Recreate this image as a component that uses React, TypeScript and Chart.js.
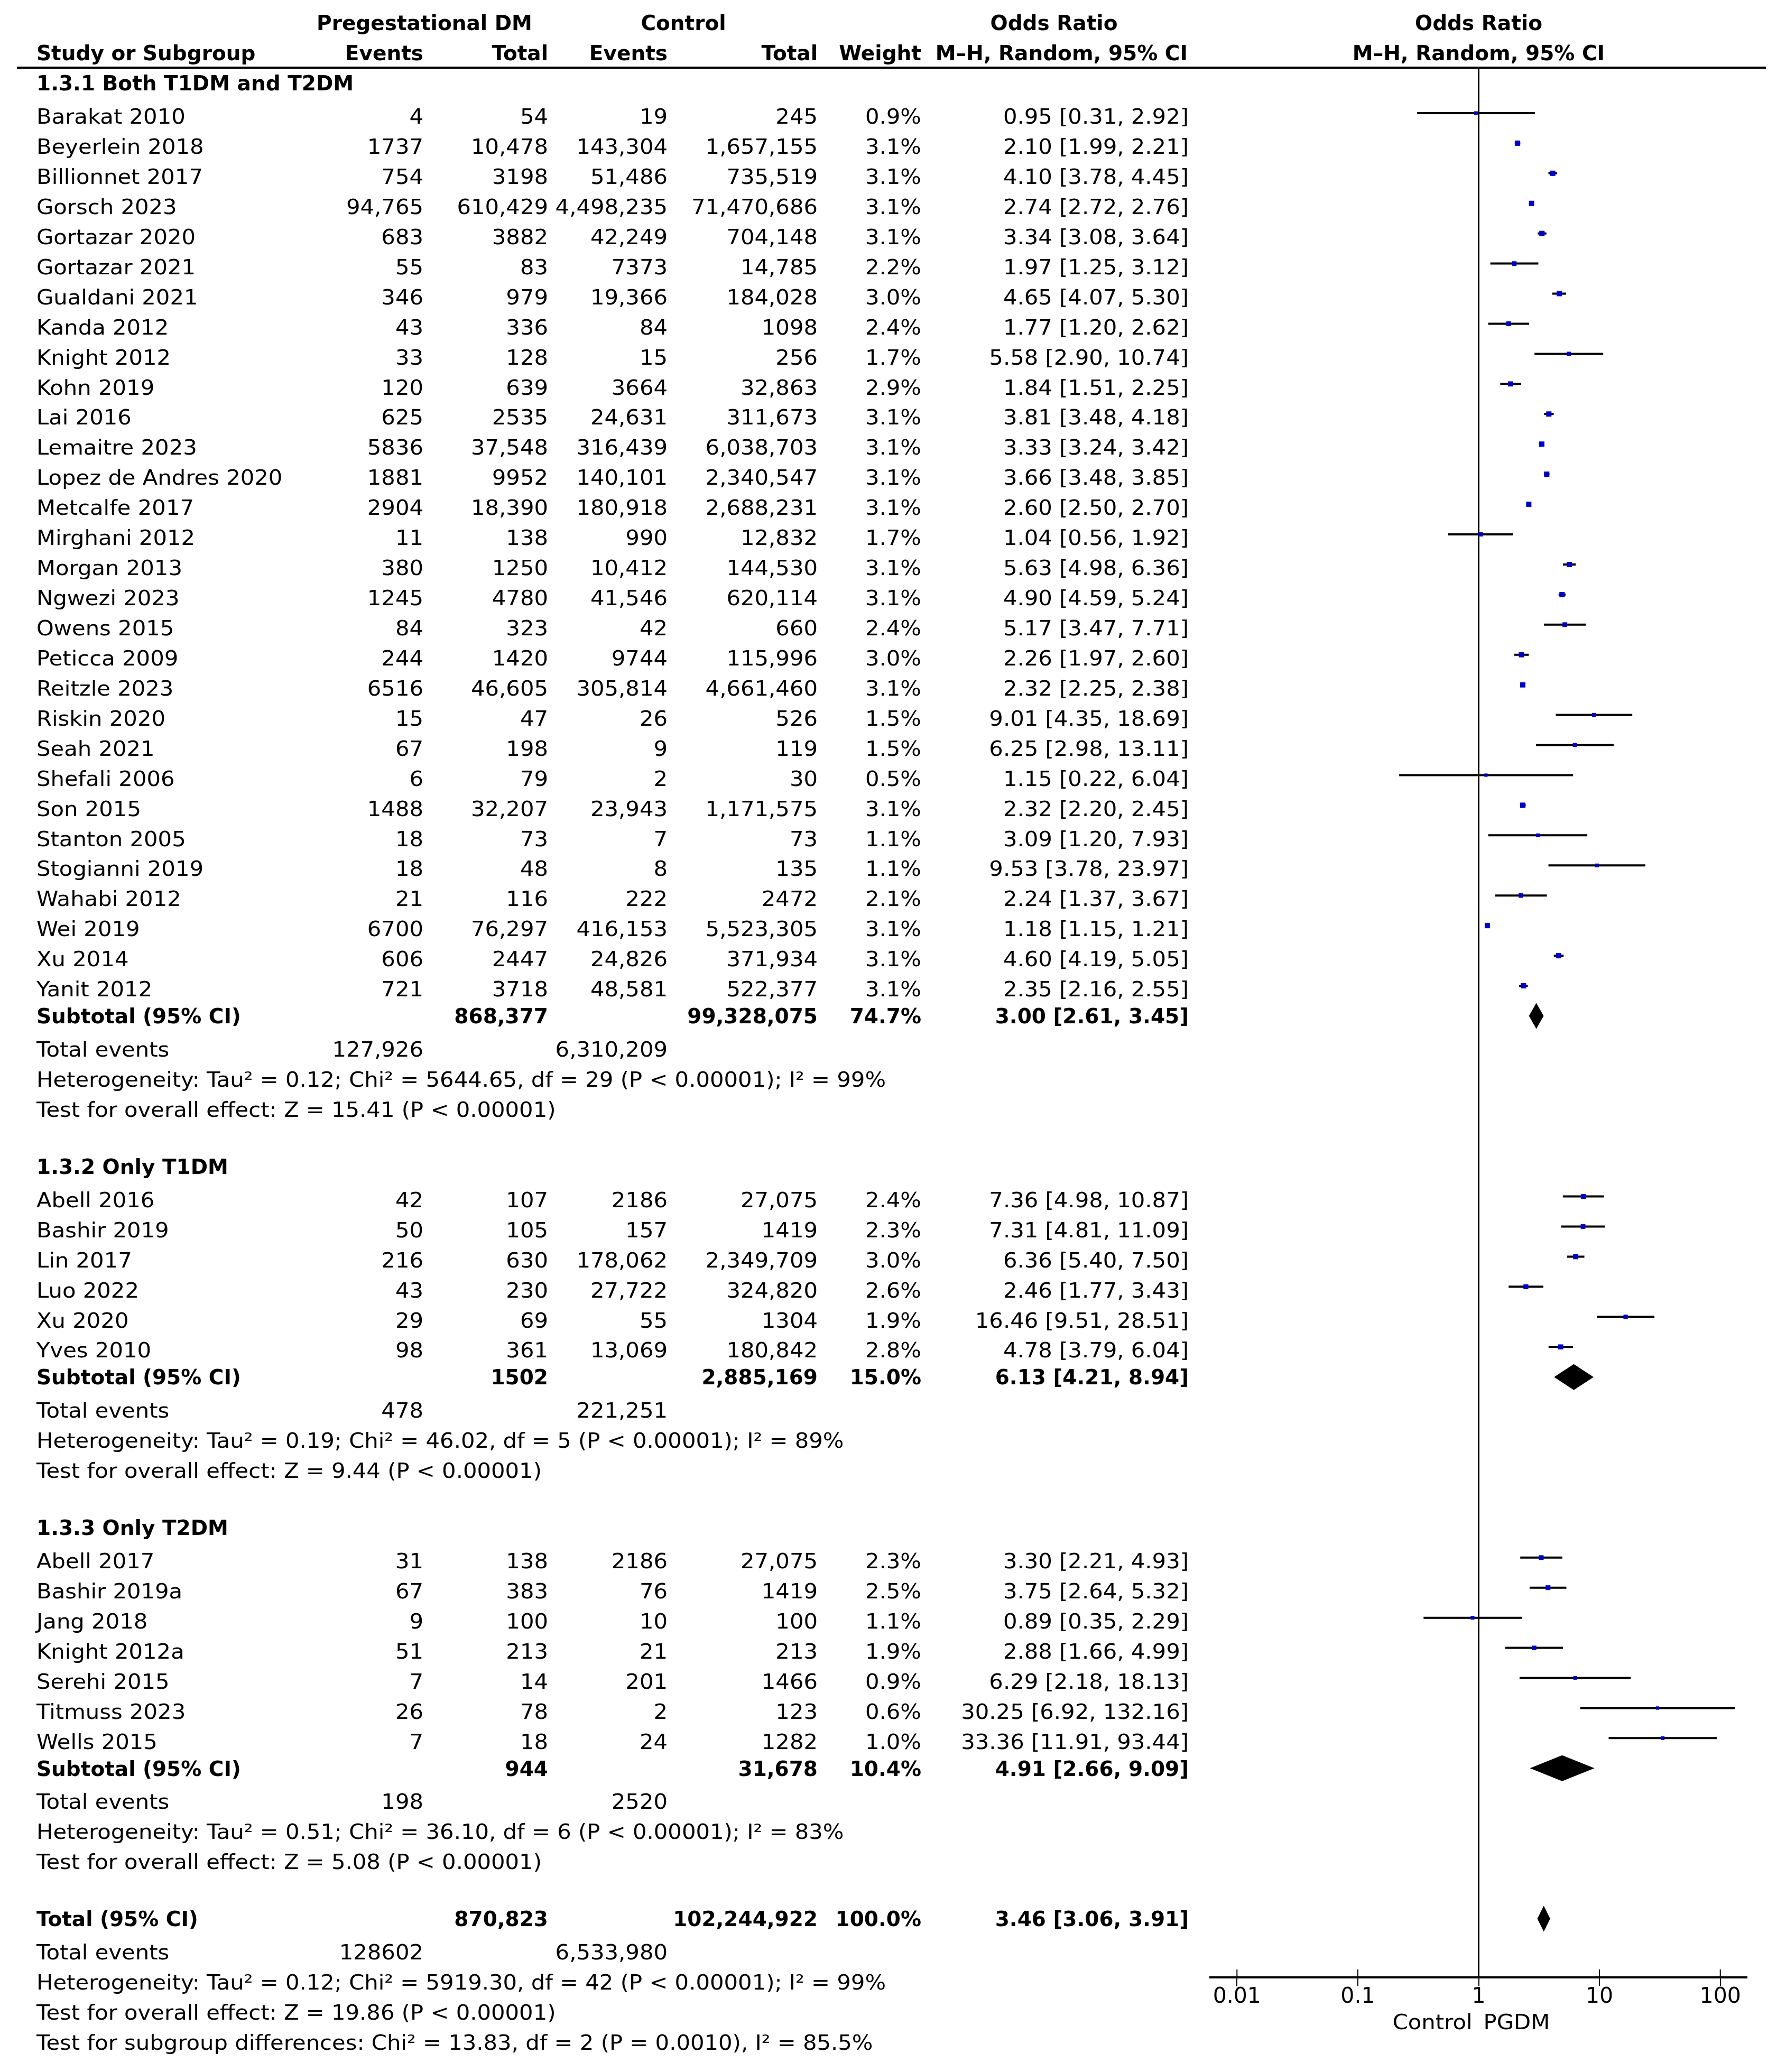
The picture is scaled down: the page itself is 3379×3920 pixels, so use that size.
import React, { useEffect, useRef } from "react";
import { Chart, registerables } from "chart.js";

Chart.register(...registerables);

// ---------------- DATA ----------------
const groupTitles = ["1.3.1 Both T1DM and T2DM", "1.3.2 Only T1DM", "1.3.3 Only T2DM"];
const groupSizes = [30, 6, 7];

const studyNames = [
  "Barakat 2010", "Beyerlein 2018", "Billionnet 2017", "Gorsch 2023", "Gortazar 2020", "Gortazar 2021",
  "Gualdani 2021", "Kanda 2012", "Knight 2012", "Kohn 2019", "Lai 2016", "Lemaitre 2023",
  "Lopez de Andres 2020", "Metcalfe 2017", "Mirghani 2012", "Morgan 2013", "Ngwezi 2023", "Owens 2015",
  "Peticca 2009", "Reitzle 2023", "Riskin 2020", "Seah 2021", "Shefali 2006", "Son 2015",
  "Stanton 2005", "Stogianni 2019", "Wahabi 2012", "Wei 2019", "Xu 2014", "Yanit 2012",
  "Abell 2016", "Bashir 2019", "Lin 2017", "Luo 2022", "Xu 2020", "Yves 2010",
  "Abell 2017", "Bashir 2019a", "Jang 2018", "Knight 2012a", "Serehi 2015", "Titmuss 2023", "Wells 2015",
];
const pgEvents = [
  "4", "1737", "754", "94,765", "683", "55", "346", "43", "33", "120", "625", "5836",
  "1881", "2904", "11", "380", "1245", "84", "244", "6516", "15", "67", "6", "1488",
  "18", "18", "21", "6700", "606", "721",
  "42", "50", "216", "43", "29", "98",
  "31", "67", "9", "51", "7", "26", "7",
];
const pgTotal = [
  "54", "10,478", "3198", "610,429", "3882", "83", "979", "336", "128", "639", "2535", "37,548",
  "9952", "18,390", "138", "1250", "4780", "323", "1420", "46,605", "47", "198", "79", "32,207",
  "73", "48", "116", "76,297", "2447", "3718",
  "107", "105", "630", "230", "69", "361",
  "138", "383", "100", "213", "14", "78", "18",
];
const ctlEvents = [
  "19", "143,304", "51,486", "4,498,235", "42,249", "7373", "19,366", "84", "15", "3664", "24,631", "316,439",
  "140,101", "180,918", "990", "10,412", "41,546", "42", "9744", "305,814", "26", "9", "2", "23,943",
  "7", "8", "222", "416,153", "24,826", "48,581",
  "2186", "157", "178,062", "27,722", "55", "13,069",
  "2186", "76", "10", "21", "201", "2", "24",
];
const ctlTotal = [
  "245", "1,657,155", "735,519", "71,470,686", "704,148", "14,785", "184,028", "1098", "256", "32,863", "311,673", "6,038,703",
  "2,340,547", "2,688,231", "12,832", "144,530", "620,114", "660", "115,996", "4,661,460", "526", "119", "30", "1,171,575",
  "73", "135", "2472", "5,523,305", "371,934", "522,377",
  "27,075", "1419", "2,349,709", "324,820", "1304", "180,842",
  "27,075", "1419", "100", "213", "1466", "123", "1282",
];
const weights = [
  0.9, 3.1, 3.1, 3.1, 3.1, 2.2, 3.0, 2.4, 1.7, 2.9, 3.1, 3.1,
  3.1, 3.1, 1.7, 3.1, 3.1, 2.4, 3.0, 3.1, 1.5, 1.5, 0.5, 3.1,
  1.1, 1.1, 2.1, 3.1, 3.1, 3.1,
  2.4, 2.3, 3.0, 2.6, 1.9, 2.8,
  2.3, 2.5, 1.1, 1.9, 0.9, 0.6, 1.0,
];
const oddsRatio = [
  0.95, 2.10, 4.10, 2.74, 3.34, 1.97, 4.65, 1.77, 5.58, 1.84, 3.81, 3.33,
  3.66, 2.60, 1.04, 5.63, 4.90, 5.17, 2.26, 2.32, 9.01, 6.25, 1.15, 2.32,
  3.09, 9.53, 2.24, 1.18, 4.60, 2.35,
  7.36, 7.31, 6.36, 2.46, 16.46, 4.78,
  3.30, 3.75, 0.89, 2.88, 6.29, 30.25, 33.36,
];
const ciLow = [
  0.31, 1.99, 3.78, 2.72, 3.08, 1.25, 4.07, 1.20, 2.90, 1.51, 3.48, 3.24,
  3.48, 2.50, 0.56, 4.98, 4.59, 3.47, 1.97, 2.25, 4.35, 2.98, 0.22, 2.20,
  1.20, 3.78, 1.37, 1.15, 4.19, 2.16,
  4.98, 4.81, 5.40, 1.77, 9.51, 3.79,
  2.21, 2.64, 0.35, 1.66, 2.18, 6.92, 11.91,
];
const ciHigh = [
  2.92, 2.21, 4.45, 2.76, 3.64, 3.12, 5.30, 2.62, 10.74, 2.25, 4.18, 3.42,
  3.85, 2.70, 1.92, 6.36, 5.24, 7.71, 2.60, 2.38, 18.69, 13.11, 6.04, 2.45,
  7.93, 23.97, 3.67, 1.21, 5.05, 2.55,
  10.87, 11.09, 7.50, 3.43, 28.51, 6.04,
  4.93, 5.32, 2.29, 4.99, 18.13, 132.16, 93.44,
];

// subgroup summaries
const subPgTotal = ["868,377", "1502", "944"];
const subCtlTotal = ["99,328,075", "2,885,169", "31,678"];
const subWeight = [74.7, 15.0, 10.4];
const subOR = [3.00, 6.13, 4.91];
const subLow = [2.61, 4.21, 2.66];
const subHigh = [3.45, 8.94, 9.09];
const subEventsPg = ["127,926", "478", "198"];
const subEventsCtl = ["6,310,209", "221,251", "2520"];
const subHeterogeneity = [
  "Heterogeneity: Tau² = 0.12; Chi² = 5644.65, df = 29 (P < 0.00001); I² = 99%",
  "Heterogeneity: Tau² = 0.19; Chi² = 46.02, df = 5 (P < 0.00001); I² = 89%",
  "Heterogeneity: Tau² = 0.51; Chi² = 36.10, df = 6 (P < 0.00001); I² = 83%",
];
const subOverall = [
  "Test for overall effect: Z = 15.41 (P < 0.00001)",
  "Test for overall effect: Z = 9.44 (P < 0.00001)",
  "Test for overall effect: Z = 5.08 (P < 0.00001)",
];

// overall
const totalPg = "870,823";
const totalCtl = "102,244,922";
const totalWeight = 100.0;
const totalOR = 3.46;
const totalLow = 3.06;
const totalHigh = 3.91;
const totalEventsPg = "128602";
const totalEventsCtl = "6,533,980";
const totalHeterogeneity = "Heterogeneity: Tau² = 0.12; Chi² = 5919.30, df = 42 (P < 0.00001); I² = 99%";
const totalOverall = "Test for overall effect: Z = 19.86 (P < 0.00001)";
const subgroupDiff = "Test for subgroup differences: Chi² = 13.83, df = 2 (P = 0.0010), I² = 85.5%";

const axisTicks = [0.01, 0.1, 1, 10, 100];
const axisLeftLabel = "Control";
const axisRightLabel = "PGDM";

// ---------------- LAYOUT ----------------
const W = 3379;
const H = 3920;
const FONT = '"DejaVu Sans", Verdana, sans-serif';
const FS = 39;
const NORMAL_STRETCH = 1.07;
const PLOT_LEFT = 2290;
const PLOT_RIGHT = 3305;
const PLOT_TOP = 128;
const AXIS_Y = 3741;

const COL_NAME = 69;
const COL_PGE = 801;
const COL_PGT = 1037;
const COL_CE = 1263;
const COL_CT = 1547;
const COL_W = 1743;
const COL_OR = 2249;

type Cell = { t: string; x: number; align: CanvasTextAlign };
type Row = { k: number; bold: boolean; cells: Cell[] };

const fmtOR = (e: number, l: number, h: number) => `${e.toFixed(2)} [${l.toFixed(2)}, ${h.toFixed(2)}]`;

export default function App() {
  const ref = useRef<HTMLCanvasElement | null>(null);

  useEffect(() => {
    document.body.style.margin = "0";
    const canvas = ref.current;
    if (!canvas) return;

    const rows: Row[] = [];
    const squares: { x: number; y: number }[] = [];
    const radii: number[] = [];
    const ciSegments: { lo: number; hi: number; y: number }[] = [];
    const diamonds: { est: number; lo: number; hi: number; y: number }[] = [];

    let k = 0;
    let s = 0;
    groupTitles.forEach((title, g) => {
      rows.push({ k, bold: true, cells: [{ t: title, x: COL_NAME, align: "left" }] });
      k++;
      for (let i = 0; i < groupSizes[g]; i++, s++) {
        rows.push({
          k,
          bold: false,
          cells: [
            { t: studyNames[s], x: COL_NAME, align: "left" },
            { t: pgEvents[s], x: COL_PGE, align: "right" },
            { t: pgTotal[s], x: COL_PGT, align: "right" },
            { t: ctlEvents[s], x: COL_CE, align: "right" },
            { t: ctlTotal[s], x: COL_CT, align: "right" },
            { t: weights[s].toFixed(1) + "%", x: COL_W, align: "right" },
            { t: fmtOR(oddsRatio[s], ciLow[s], ciHigh[s]), x: COL_OR, align: "right" },
          ],
        });
        squares.push({ x: oddsRatio[s], y: k });
        radii.push((5.5 + 1.45 * weights[s]) / Math.SQRT2);
        ciSegments.push({ lo: ciLow[s], hi: ciHigh[s], y: k });
        k++;
      }
      rows.push({
        k,
        bold: true,
        cells: [
          { t: "Subtotal (95% CI)", x: COL_NAME, align: "left" },
          { t: subPgTotal[g], x: COL_PGT, align: "right" },
          { t: subCtlTotal[g], x: COL_CT, align: "right" },
          { t: subWeight[g].toFixed(1) + "%", x: COL_W, align: "right" },
          { t: fmtOR(subOR[g], subLow[g], subHigh[g]), x: COL_OR, align: "right" },
        ],
      });
      diamonds.push({ est: subOR[g], lo: subLow[g], hi: subHigh[g], y: k });
      k++;
      rows.push({
        k,
        bold: false,
        cells: [
          { t: "Total events", x: COL_NAME, align: "left" },
          { t: subEventsPg[g], x: COL_PGE, align: "right" },
          { t: subEventsCtl[g], x: COL_CE, align: "right" },
        ],
      });
      k++;
      rows.push({ k, bold: false, cells: [{ t: subHeterogeneity[g], x: COL_NAME, align: "left" }] });
      k++;
      rows.push({ k, bold: false, cells: [{ t: subOverall[g], x: COL_NAME, align: "left" }] });
      k++;
      k++; // blank row
    });
    rows.push({
      k,
      bold: true,
      cells: [
        { t: "Total (95% CI)", x: COL_NAME, align: "left" },
        { t: totalPg, x: COL_PGT, align: "right" },
        { t: totalCtl, x: COL_CT, align: "right" },
        { t: totalWeight.toFixed(1) + "%", x: COL_W, align: "right" },
        { t: fmtOR(totalOR, totalLow, totalHigh), x: COL_OR, align: "right" },
      ],
    });
    diamonds.push({ est: totalOR, lo: totalLow, hi: totalHigh, y: k });
    k++;
    rows.push({
      k,
      bold: false,
      cells: [
        { t: "Total events", x: COL_NAME, align: "left" },
        { t: totalEventsPg, x: COL_PGE, align: "right" },
        { t: totalEventsCtl, x: COL_CE, align: "right" },
      ],
    });
    k++;
    rows.push({ k, bold: false, cells: [{ t: totalHeterogeneity, x: COL_NAME, align: "left" }] });
    k++;
    rows.push({ k, bold: false, cells: [{ t: totalOverall, x: COL_NAME, align: "left" }] });
    k++;
    rows.push({ k, bold: false, cells: [{ t: subgroupDiff, x: COL_NAME, align: "left" }] });

    const rowPitch = 56.934;
    const yMin = -(157.0 - PLOT_TOP) / rowPitch;
    const yMax = yMin + (AXIS_Y - PLOT_TOP) / rowPitch;

    const drawText = (ctx: CanvasRenderingContext2D, t: string, x: number, yc: number, align: CanvasTextAlign, bold: boolean) => {
      ctx.save();
      ctx.font = `${bold ? "bold " : ""}${FS}px ${FONT}`;
      ctx.textAlign = align;
      ctx.textBaseline = "alphabetic";
      ctx.fillStyle = "#000";
      ctx.translate(x, yc + 0.3645 * FS);
      if (!bold) ctx.scale(NORMAL_STRETCH, 1);
      ctx.fillText(t, 0, 0);
      ctx.restore();
    };

    const decor = {
      id: "forestDecor",
      beforeDatasetsDraw(chart: any) {
        const { ctx, chartArea, scales } = chart;
        const x1 = scales.x.getPixelForValue(1);
        ctx.save();
        ctx.strokeStyle = "#000";
        ctx.lineWidth = 3;
        ctx.beginPath();
        ctx.moveTo(x1, chartArea.top);
        ctx.lineTo(x1, chartArea.bottom);
        ctx.stroke();
        ctx.restore();
      },
      afterDatasetsDraw(chart: any) {
        const { ctx, chartArea, scales } = chart;
        const xs = scales.x;
        const ys = scales.y;
        ctx.save();
        // diamonds
        ctx.fillStyle = "#000";
        diamonds.forEach((d) => {
          const y = ys.getPixelForValue(d.y);
          const half = 24.5;
          ctx.beginPath();
          ctx.moveTo(xs.getPixelForValue(d.lo), y);
          ctx.lineTo(xs.getPixelForValue(d.est), y - half);
          ctx.lineTo(xs.getPixelForValue(d.hi), y);
          ctx.lineTo(xs.getPixelForValue(d.est), y + half);
          ctx.closePath();
          ctx.fill();
        });
        // header rule
        ctx.strokeStyle = "#000";
        ctx.lineWidth = 4;
        ctx.beginPath();
        ctx.moveTo(32, chartArea.top);
        ctx.lineTo(3341, chartArea.top);
        ctx.stroke();
        // upper halves of axis ticks
        ctx.lineWidth = 2;
        xs.ticks.forEach((t: any) => {
          const px = xs.getPixelForValue(t.value);
          ctx.beginPath();
          ctx.moveTo(px, chartArea.bottom - 15);
          ctx.lineTo(px, chartArea.bottom);
          ctx.stroke();
        });
        // headers
        const plotCenter = xs.getPixelForValue(1);
        const h1 = ys.getPixelForValue(-2);
        const h2 = ys.getPixelForValue(-1);
        drawText(ctx, "Pregestational DM", 803, h1, "center", true);
        drawText(ctx, "Control", 1293, h1, "center", true);
        drawText(ctx, "Odds Ratio", 1994, h1, "center", true);
        drawText(ctx, "Odds Ratio", plotCenter, h1, "center", true);
        drawText(ctx, "Study or Subgroup", COL_NAME, h2, "left", true);
        drawText(ctx, "Events", COL_PGE, h2, "right", true);
        drawText(ctx, "Total", COL_PGT, h2, "right", true);
        drawText(ctx, "Events", COL_CE, h2, "right", true);
        drawText(ctx, "Total", COL_CT, h2, "right", true);
        drawText(ctx, "Weight", COL_W, h2, "right", true);
        drawText(ctx, "M–H, Random, 95% CI", COL_OR - 2, h2, "right", true);
        drawText(ctx, "M–H, Random, 95% CI", plotCenter, h2, "center", true);
        // table rows
        rows.forEach((r) => {
          const y = ys.getPixelForValue(r.k) + (r.bold ? 0 : 6);
          r.cells.forEach((c) => drawText(ctx, c.t, c.x, y, c.align, r.bold));
        });
        // axis side labels
        const x1 = xs.getPixelForValue(1);
        drawText(ctx, axisLeftLabel, x1 - 12, chartArea.bottom + 84, "right", false);
        drawText(ctx, axisRightLabel, x1 + 9, chartArea.bottom + 84, "left", false);
        ctx.restore();
      },
    };

    const ciDatasets = ciSegments.map((c) => ({
      type: "scatter" as const,
      data: [
        { x: c.lo, y: c.y },
        { x: c.hi, y: c.y },
      ],
      showLine: true,
      borderColor: "#000",
      borderWidth: 4,
      borderCapStyle: "butt" as const,
      pointRadius: 0,
      pointHoverRadius: 0,
      fill: false,
    }));

    const chart = new Chart(canvas, {
      type: "scatter",
      data: {
        datasets: [
          {
            data: squares,
            pointStyle: "rect",
            pointRadius: radii,
            pointHoverRadius: radii,
            backgroundColor: "#0000c8",
            borderWidth: 0,
            showLine: false,
          } as any,
          ...ciDatasets,
        ],
      },
      options: {
        animation: false,
        responsive: false,
        devicePixelRatio: 1,
        events: [],
        layout: { padding: { left: PLOT_LEFT, right: W - PLOT_RIGHT, top: PLOT_TOP, bottom: 0 } },
        plugins: { legend: { display: false }, tooltip: { enabled: false }, title: { display: false } },
        scales: {
          x: {
            type: "logarithmic",
            position: "bottom",
            min: Math.pow(10, -2.22),
            max: Math.pow(10, 2.22),
            afterBuildTicks: (scale: any) => {
              scale.ticks = axisTicks.map((v) => ({ value: v }));
            },
            afterFit: (scale: any) => {
              scale.height = H - AXIS_Y;
            },
            grid: { drawOnChartArea: false, drawTicks: true, tickLength: 16, color: "#000", lineWidth: 2 },
            border: { display: true, color: "#000", width: 4 },
            ticks: {
              color: "#000",
              font: { family: FONT, size: 41, lineHeight: 1 },
              padding: 1,
              autoSkip: false,
              maxRotation: 0,
              minRotation: 0,
              callback: (v: any) => String(v),
            },
          },
          y: {
            type: "linear",
            display: false,
            min: yMin,
            max: yMax,
            reverse: true,
          },
        },
      } as any,
      plugins: [decor],
    });

    return () => chart.destroy();
  }, []);

  return <canvas ref={ref} width={W} height={H} style={{ display: "block", width: W, height: H }} />;
}
